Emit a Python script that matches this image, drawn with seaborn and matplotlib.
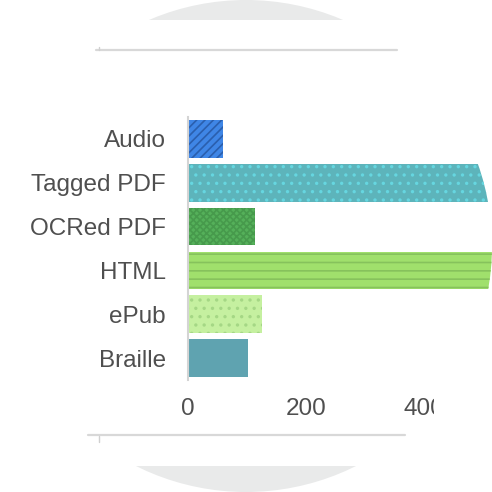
import matplotlib
matplotlib.use("Agg")
import matplotlib.pyplot as plt
from matplotlib.patches import Circle, Rectangle
from matplotlib.lines import Line2D
import seaborn as sns

formats = ["Audio", "Tagged PDF", "OCRed PDF", "HTML", "ePub", "Braille"]
counts = [60, 530, 114, 560, 125, 101]
face_colors = ["#3f86e6", "#5db4bb", "#55b05a", "#a0e06c", "#c5f0a0", "#5fa3b0"]
hatch_colors = ["#2a5fae", "#66d6e0", "#479a4c", "#86c25c", "#a5d785", "#5fa3b0"]
hatches = ["////", "..", "xxxxx", "--", "..", ""]
x_ticks = [0, 200, 400]

sns.set_theme(style="white")
plt.rcParams["font.family"] = ["Liberation Sans", "DejaVu Sans"]
plt.rcParams["hatch.linewidth"] = 1.2

W = 492
fig = plt.figure(figsize=(4.92, 4.92), dpi=100)
fig.patch.set_facecolor("white")

def fx(px):
    return px / W

def fy(py):
    return 1 - py / W

# grey disc only shows above and below the white card
for (y0, y1) in [(0, 20), (466, 492)]:
    disc = Circle((0.5, 0.5), 0.5, transform=fig.transFigure, facecolor="#e9eaea",
                  edgecolor="none", zorder=-10)
    band = Rectangle((0, fy(y1)), 1, fy(y0) - fy(y1), transform=fig.transFigure)
    disc.set_clip_path(band)
    fig.patches.append(disc)
mask = Circle((0.5, 0.5), 0.5, transform=fig.transFigure)

for (x0, x1, y) in [(96, 397, 50), (88, 405, 435)]:
    fig.lines.append(Line2D([fx(x0), fx(x1)], [fy(y), fy(y)], transform=fig.transFigure,
                            color="#d8d8d8", lw=1.6, zorder=-8))
fig.lines.append(Line2D([fx(99), fx(99)], [fy(47), fy(50)], transform=fig.transFigure,
                        color="#d0d0d0", lw=1, zorder=-8))
fig.lines.append(Line2D([fx(99), fx(99)], [fy(436), fy(442)], transform=fig.transFigure,
                        color="#d0d0d0", lw=1, zorder=-8))

ax = fig.add_axes([fx(188), fy(380), fx(492) - fx(188), fy(117) - fy(380)])
ax.patch.set_alpha(0)

sns.barplot(x=counts, y=formats, hue=formats, palette=face_colors, orient="h",
            width=0.86, legend=False, ax=ax, linewidth=0, saturation=1)

for p, hc, h in zip(ax.patches, hatch_colors, hatches):
    p.set_edgecolor(hc)
    p.set_linewidth(0)
    if h:
        p.set_hatch(h)
    p.set_clip_path(mask)

ax.set_xlim(0, (492 - 188) / 0.59)
ax.set_ylim(5.5, -0.5)
ax.set_xticks(x_ticks)
ax.set_xticklabels([str(t) for t in x_ticks])
ax.set_xlabel("")
ax.set_ylabel("")
for s in ["top", "right", "bottom"]:
    ax.spines[s].set_visible(False)
ax.spines["left"].set_color("#d4d4d4")
ax.spines["left"].set_linewidth(1.5)
ax.tick_params(axis="y", length=0, pad=16, labelsize=17.5, labelcolor="#4f4f4f")
ax.tick_params(axis="x", length=0, pad=13, labelsize=17.5, labelcolor="#4f4f4f")

# the right label is cut off in the source
cut = Rectangle((0, 0), fx(434), 1, transform=fig.transFigure)
for lab in ax.get_xticklabels():
    lab.set_clip_path(cut)
    lab.set_clip_on(True)

fig.savefig("out.png", dpi=100)
